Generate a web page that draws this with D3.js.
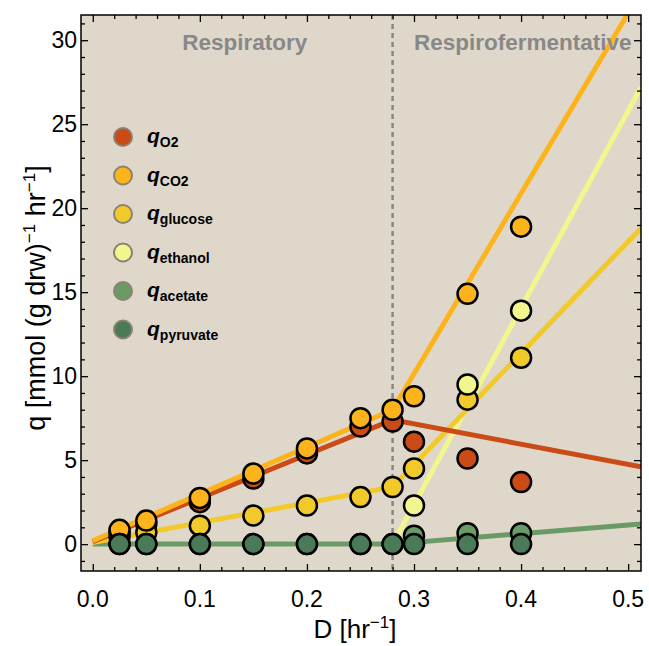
<!DOCTYPE html>
<html>
<head>
<meta charset="utf-8">
<script src="https://cdn.jsdelivr.net/npm/d3@7"></script>
<style>
  body { margin: 0; background: #fff; }
  text { font-family: "Liberation Sans", Arial, sans-serif; }
</style>
</head>
<body>
<div class="chart"></div>
<script>
// dilution rates where samples were taken
const dilution = [0.025, 0.05, 0.1, 0.15, 0.2, 0.25, 0.28, 0.3, 0.35, 0.4];
const qO2 = [0.7, 1.2, 2.5, 3.9, 5.4, 7.0, 7.3, 6.1, 5.1, 3.7];
const qCO2 = [0.85, 1.4, 2.75, 4.2, 5.7, 7.5, 8.0, 8.8, 14.9, 18.9];
const qGlucose = [0.45, 0.7, 1.1, 1.7, 2.3, 2.8, 3.4, 4.5, 8.6, 11.1];
const ethanolD = [0.3, 0.35, 0.4];
const qEthanol = [2.3, 9.5, 13.9];
const qAcetate = [0, 0, 0, 0, 0, 0, 0, 0.5, 0.65, 0.65];
const qPyruvate = [0, 0, 0, 0, 0, 0, 0, 0, 0, 0];

// model fit lines (piecewise, break at critical D = 0.28)
const criticalD = 0.28;
const fitO2 = [[0, 0.15], [0.28, 7.4], [0.512, 4.6]];
const fitCO2 = [[0, 0.2], [0.28, 8.0], [0.512, 32.9]];
const fitGlucose = [[0, 0.1], [0.28, 3.4], [0.512, 18.8]];
const fitEthanol = [[0.28, 0], [0.512, 27.2]];
const fitAcetate = [[0, 0], [0.28, 0], [0.512, 1.2]];

const colors = {
  O2: '#cb4b16', CO2: '#fdb41c', glucose: '#f2c92a',
  ethanol: '#f2f68c', acetate: '#6a9a66', pyruvate: '#4a7a58'
};

const width = 649;
const height = 646;
const pLeft = 81, pRight = 641, pTop = 15, pBottom = 571;

const svg = d3.select('.chart')
  .append('svg')
  .attr('width', width)
  .attr('height', height);

const xScale = d3.scaleLinear().domain([-0.011, 0.512]).range([pLeft, pRight]);
const yScale = d3.scaleLinear().domain([-1.6, 31.5]).range([pBottom, pTop]);

svg.append('rect')
  .attr('x', pLeft).attr('y', pTop)
  .attr('width', pRight - pLeft).attr('height', pBottom - pTop)
  .attr('fill', '#dfd8ca');

svg.append('clipPath').attr('id', 'plot-clip')
  .append('rect')
  .attr('x', pLeft).attr('y', pTop)
  .attr('width', pRight - pLeft).attr('height', pBottom - pTop);

const plot = svg.append('g').attr('clip-path', 'url(#plot-clip)');

// region labels
svg.append('text')
  .attr('x', xScale(0.142)).attr('y', 50)
  .attr('text-anchor', 'middle')
  .attr('font-size', 22.5).attr('font-weight', 'bold')
  .attr('fill', '#888888')
  .text('Respiratory');
svg.append('text')
  .attr('x', xScale(0.4015)).attr('y', 50)
  .attr('text-anchor', 'middle')
  .attr('font-size', 22.5).attr('font-weight', 'bold')
  .attr('fill', '#888888')
  .text('Respirofermentative');

// dashed line at critical dilution rate
plot.append('line')
  .attr('x1', xScale(criticalD)).attr('x2', xScale(criticalD))
  .attr('y1', pTop).attr('y2', pBottom)
  .attr('stroke', '#888888')
  .attr('stroke-width', 2.5)
  .attr('stroke-dasharray', '5,4');

const line = d3.line().x(d => xScale(d[0])).y(d => yScale(d[1]));

[[fitAcetate, colors.acetate], [fitEthanol, colors.ethanol], [fitGlucose, colors.glucose],
 [fitO2, colors.O2], [fitCO2, colors.CO2]].forEach(([pts, c]) => {
  plot.append('path')
    .attr('d', line(pts))
    .attr('fill', 'none')
    .attr('stroke', c)
    .attr('stroke-width', 5);
});

// data points
const series = [
  [dilution, qO2, colors.O2],
  [dilution, qGlucose, colors.glucose],
  [ethanolD, qEthanol, colors.ethanol],
  [dilution, qCO2, colors.CO2],
  [dilution, qAcetate, colors.acetate],
  [dilution, qPyruvate, colors.pyruvate]
];
series.forEach(([xs, ys, c]) => {
  plot.append('g').selectAll('circle')
    .data(ys)
    .enter()
    .append('circle')
    .attr('cx', (d, i) => xScale(xs[i]))
    .attr('cy', d => yScale(d))
    .attr('r', 10)
    .attr('fill', c)
    .attr('stroke', '#000')
    .attr('stroke-width', 2.5);
});

// axes with inward ticks on all four sides
function ticks(axis, majors, minors, pos) {
  const g = svg.append('g').attr('transform', pos);
  g.call(axis.tickValues(minors).tickSize(4).tickFormat(''));
  g.select('.domain').remove();
  const g2 = svg.append('g').attr('transform', pos);
  g2.call(axis.tickValues(majors).tickSize(7).tickFormat(''));
  g2.select('.domain').remove();
}
const xMajor = [0, 0.1, 0.2, 0.3, 0.4, 0.5];
const xMinor = d3.range(0, 0.512, 0.02).filter(v => Math.abs(v * 10 - Math.round(v * 10)) > 1e-6);
const yMajor = [0, 5, 10, 15, 20, 25, 30];
const yMinor = d3.range(-1, 32, 1).filter(v => v % 5 !== 0);

ticks(d3.axisTop(xScale), xMajor, xMinor, `translate(0,${pBottom})`);
ticks(d3.axisBottom(xScale), xMajor, xMinor, `translate(0,${pTop})`);
ticks(d3.axisRight(yScale), yMajor, yMinor, `translate(${pLeft},0)`);
ticks(d3.axisLeft(yScale), yMajor, yMinor, `translate(${pRight},0)`);
svg.selectAll('.tick line').attr('stroke', '#000').attr('stroke-width', 1.3);

// tick labels
svg.append('g').selectAll('text')
  .data(xMajor).enter().append('text')
  .attr('x', d => xScale(d)).attr('y', pBottom + 36)
  .attr('text-anchor', 'middle').attr('font-size', 23)
  .text(d3.format('.1f'));
svg.append('g').selectAll('text')
  .data(yMajor).enter().append('text')
  .attr('x', pLeft - 4).attr('y', d => yScale(d) + 8)
  .attr('text-anchor', 'end').attr('font-size', 23)
  .text(d => d);

// frame
svg.append('rect')
  .attr('x', pLeft).attr('y', pTop)
  .attr('width', pRight - pLeft).attr('height', pBottom - pTop)
  .attr('fill', 'none').attr('stroke', '#000').attr('stroke-width', 1.5);

// axis titles
const xt = svg.append('text')
  .attr('x', 355).attr('y', 638)
  .attr('text-anchor', 'middle').attr('font-size', 26);
xt.append('tspan').text('D [hr');
xt.append('tspan').attr('dy', -10).attr('font-size', 17).text('\u22121');
xt.append('tspan').attr('dy', 10).text(']');

const yt = svg.append('text')
  .attr('transform', `translate(45,298) rotate(-90)`)
  .attr('text-anchor', 'middle').attr('font-size', 27);
yt.append('tspan').text('q [mmol (g drw)');
yt.append('tspan').attr('dy', -10).attr('font-size', 17).text('\u22121');
yt.append('tspan').attr('dy', 10).text(' hr');
yt.append('tspan').attr('dy', -10).attr('font-size', 17).text('\u22121');
yt.append('tspan').attr('dy', 10).text(']');

// legend
const legendNames = ['O2', 'CO2', 'glucose', 'ethanol', 'acetate', 'pyruvate'];
const legend = svg.append('g');
legendNames.forEach((name, i) => {
  const y = 137 + i * 38.5;
  legend.append('circle')
    .attr('cx', 123).attr('cy', y).attr('r', 9)
    .attr('fill', colors[name])
    .attr('stroke', '#8c8272').attr('stroke-width', 2);
  const t = legend.append('text')
    .attr('x', 147).attr('y', y + 6)
    .attr('font-weight', 'bold');
  t.append('tspan').attr('font-size', 21).attr('font-style', 'italic').text('q');
  t.append('tspan').attr('font-size', 14).attr('dy', 4).text(name);
});
</script>
</body>
</html>
